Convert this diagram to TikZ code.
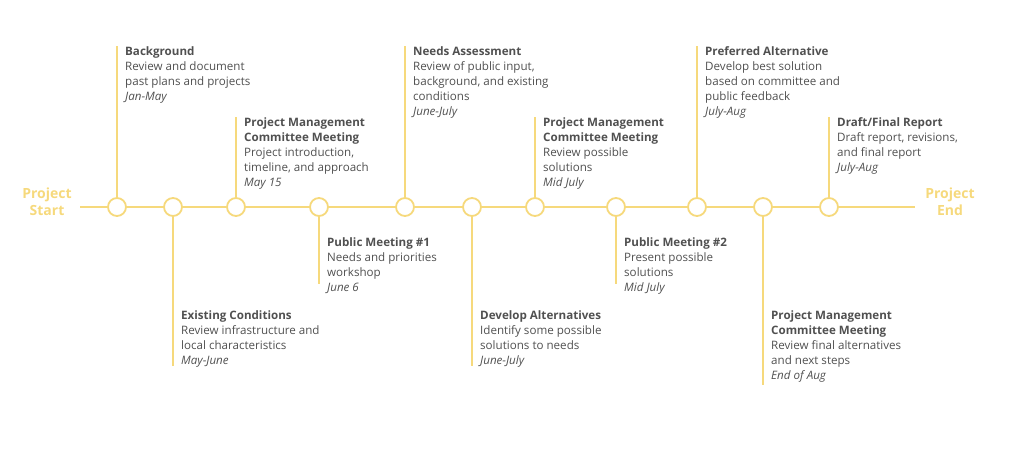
\documentclass[tikz,border=0pt]{standalone}
\usepackage{fontspec}
\setmainfont{Open Sans}
\usetikzlibrary{positioning, calc}
\definecolor{tlyellow}{HTML}{F6D97C}
\definecolor{tltext}{HTML}{505050}
\begin{document}
\begin{tikzpicture}
  [x=1pt, y=-1pt,
  % milestone
  stop/.style = {circle, draw=tlyellow, line width=1.8pt, fill=white,
    minimum size=18pt, inner sep=0pt},
  % text block
  info/.style = {anchor=north west, align=left, inner sep=0pt,
    text=tltext, font=\fontsize{11.6}{15}\selectfont},
  % ends
  term/.style = {text=tlyellow, font=\fontsize{14}{17}\selectfont\bfseries,
    align=center},
  % line
  line/.style = {draw=tlyellow, line width=1.8pt},
  ]
  \useasboundingbox (0,0) rectangle (1024,449);

  % ends
  \node [term] (start) at (47,202) {Project\\Start};
  \node [term] (end) at (950,202) {Project\\End};
  \coordinate (l0) at (80,207);
  \coordinate (l1) at (915,207);
  \path [line] (l0) -- (l1);

  % milestones
  \foreach \n/\x in {1/117, 2/173, 3/236, 4/319, 5/405, 6/472, 7/535, 8/616, 9/697, 10/763, 11/829}
    \coordinate (p\n) at (\x,207);

  % texts
  \node [info] (t1) at (125,46) {\textbf{Background}\\Review and document\\past plans and projects\\\textit{Jan-May}};
  \node [info] (t2) at (181,310) {\textbf{Existing Conditions}\\Review infrastructure and\\local characteristics\\\textit{May-June}};
  \node [info] (t3) at (244,117) {\textbf{Project Management}\\\textbf{Committee Meeting}\\Project introduction,\\timeline, and approach\\\textit{May 15}};
  \node [info] (t4) at (327,237) {\textbf{Public Meeting \#1}\\Needs and priorities\\workshop\\\textit{June 6}};
  \node [info] (t5) at (413,46) {\textbf{Needs Assessment}\\Review of public input,\\background, and existing\\conditions\\\textit{June-July}};
  \node [info] (t6) at (480,310) {\textbf{Develop Alternatives}\\Identify some possible\\solutions to needs\\\textit{June-July}};
  \node [info] (t7) at (543,117) {\textbf{Project Management}\\\textbf{Committee Meeting}\\Review possible\\solutions\\\textit{Mid July}};
  \node [info] (t8) at (624,237) {\textbf{Public Meeting \#2}\\Present possible\\solutions\\\textit{Mid July}};
  \node [info] (t9) at (705,46) {\textbf{Preferred Alternative}\\Develop best solution\\based on committee and\\public feedback\\\textit{July-Aug}};
  \node [info] (t10) at (771,310) {\textbf{Project Management}\\\textbf{Committee Meeting}\\Review final alternatives\\and next steps\\\textit{End of Aug}};
  \node [info] (t11) at (837,117) {\textbf{Draft/Final Report}\\Draft report, revisions,\\and final report\\\textit{July-Aug}};

  % stems
  \foreach \n in {1,3,5,7,9,11}
    \path [line] (p\n) -- (p\n |- t\n.north);
  \path [line] (p2) -- (173,366);
  \path [line] (p4) -- (319,284);
  \path [line] (p6) -- (472,366);
  \path [line] (p8) -- (616,284);
  \path [line] (p10) -- (763,385);

  \foreach \n in {1,...,11}
    \node [stop] (c\n) at (p\n) {};
\end{tikzpicture}
\end{document}
